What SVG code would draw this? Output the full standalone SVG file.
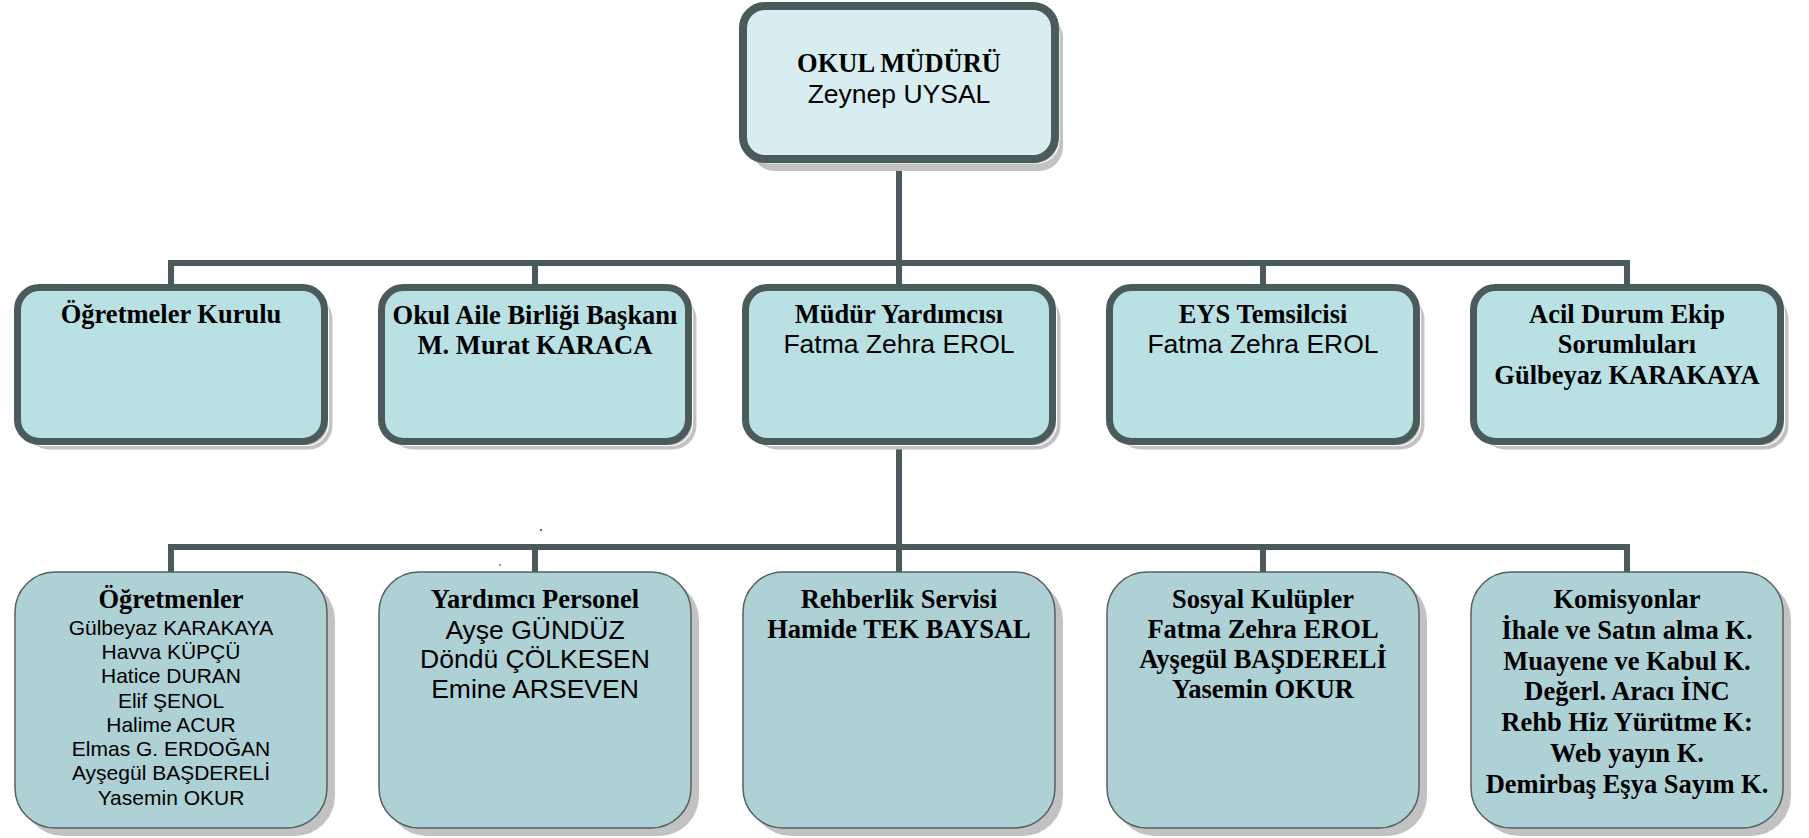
<svg xmlns="http://www.w3.org/2000/svg" width="1809" height="838" viewBox="0 0 1809 838">
<style>
.sh{fill:#c2c2c2}
.shl{fill:none;stroke:#ffffff;stroke-width:1.2}
.top{fill:#d8edf0;stroke:#4b5a5b;stroke-width:8}
.mid{fill:#b9e0e3;stroke:#4b5a5b;stroke-width:7}
.bot{fill:#aed1d5;stroke:#56605f;stroke-width:1.5}
.conn{stroke:#4b5a5b;stroke-width:6;fill:none}
.b{font-family:"Liberation Serif","Times New Roman",serif;font-weight:bold;font-size:26.5px;fill:#000;text-anchor:middle}
.r{font-family:"Liberation Sans",Arial,sans-serif;font-size:26.5px;fill:#000;text-anchor:middle}
.s{font-family:"Liberation Sans",Arial,sans-serif;font-size:21px;fill:#000;text-anchor:middle}
</style>
<rect width="1809" height="838" fill="#ffffff"/>
<g id="connectors">
<path class="conn" d="M899 163V263M171 263H1627M171 260V286M535 260V286M899 260V286M1263 260V286M1627 260V286"/>
<path class="conn" d="M899 445V547M171 547H1627M171 544V573M535 544V573M899 544V573M1263 544V573M1627 544V573"/>
</g>
<rect x="540" y="529" width="2" height="2" fill="#666"/>
<rect x="499" y="564" width="2" height="2" fill="#999"/>
<g id="okul-muduru">
<rect class="sh" x="751" y="14" width="312" height="157" rx="24"/>
<rect class="shl" x="747" y="10" width="312" height="153" rx="22"/>
<rect class="top" x="743" y="6" width="312" height="153" rx="22"/>
<text class="b" x="899" y="72">OKUL MÜDÜRÜ</text>
<text class="r" x="899" y="103">Zeynep UYSAL</text>
</g>
<g id="ogretmeler-kurulu">
<rect class="sh" x="25.5" y="295.5" width="307" height="154" rx="24"/>
<rect class="shl" x="21.5" y="291.5" width="307" height="154" rx="22"/>
<rect class="mid" x="17.5" y="287.5" width="307" height="154" rx="22"/>
<text class="b" x="171" y="323">Öğretmeler Kurulu</text>
</g>
<g id="okul-aile-birligi">
<rect class="sh" x="389.5" y="295.5" width="307" height="154" rx="24"/>
<rect class="shl" x="385.5" y="291.5" width="307" height="154" rx="22"/>
<rect class="mid" x="381.5" y="287.5" width="307" height="154" rx="22"/>
<text class="b" x="535" y="324">Okul Aile Birliği Başkanı</text>
<text class="b" x="535" y="354">M. Murat KARACA</text>
</g>
<g id="mudur-yardimcisi">
<rect class="sh" x="753.5" y="295.5" width="307" height="154" rx="24"/>
<rect class="shl" x="749.5" y="291.5" width="307" height="154" rx="22"/>
<rect class="mid" x="745.5" y="287.5" width="307" height="154" rx="22"/>
<text class="b" x="899" y="323">Müdür Yardımcısı</text>
<text class="r" x="899" y="353">Fatma Zehra EROL</text>
</g>
<g id="eys-temsilcisi">
<rect class="sh" x="1117.5" y="295.5" width="307" height="154" rx="24"/>
<rect class="shl" x="1113.5" y="291.5" width="307" height="154" rx="22"/>
<rect class="mid" x="1109.5" y="287.5" width="307" height="154" rx="22"/>
<text class="b" x="1263" y="323">EYS Temsilcisi</text>
<text class="r" x="1263" y="353">Fatma Zehra EROL</text>
</g>
<g id="acil-durum">
<rect class="sh" x="1481.5" y="295.5" width="307" height="154" rx="24"/>
<rect class="shl" x="1477.5" y="291.5" width="307" height="154" rx="22"/>
<rect class="mid" x="1473.5" y="287.5" width="307" height="154" rx="22"/>
<text class="b" x="1627" y="323">Acil Durum Ekip</text>
<text class="b" x="1627" y="353">Sorumluları</text>
<text class="b" x="1627" y="384">Gülbeyaz KARAKAYA</text>
</g>
<g id="ogretmenler">
<rect class="sh" x="23" y="580" width="312" height="256" rx="40"/>
<rect class="bot" x="15" y="572" width="312" height="256" rx="40"/>
<text class="b" x="171" y="608">Öğretmenler</text>
<text class="s" x="171" y="635">Gülbeyaz KARAKAYA</text>
<text class="s" x="171" y="659">Havva KÜPÇÜ</text>
<text class="s" x="171" y="683">Hatice DURAN</text>
<text class="s" x="171" y="708">Elif ŞENOL</text>
<text class="s" x="171" y="732">Halime ACUR</text>
<text class="s" x="171" y="756">Elmas G. ERDOĞAN</text>
<text class="s" x="171" y="780">Ayşegül BAŞDERELİ</text>
<text class="s" x="171" y="805">Yasemin OKUR</text>
</g>
<g id="yardimci-personel">
<rect class="sh" x="387" y="580" width="312" height="256" rx="40"/>
<rect class="bot" x="379" y="572" width="312" height="256" rx="40"/>
<text class="b" x="535" y="608">Yardımcı Personel</text>
<text class="r" x="535" y="639">Ayşe GÜNDÜZ</text>
<text class="r" x="535" y="668">Döndü ÇÖLKESEN</text>
<text class="r" x="535" y="698">Emine ARSEVEN</text>
</g>
<g id="rehberlik-servisi">
<rect class="sh" x="751" y="580" width="312" height="256" rx="40"/>
<rect class="bot" x="743" y="572" width="312" height="256" rx="40"/>
<text class="b" x="899" y="608">Rehberlik Servisi</text>
<text class="b" x="899" y="638">Hamide TEK BAYSAL</text>
</g>
<g id="sosyal-kulupler">
<rect class="sh" x="1115" y="580" width="312" height="256" rx="40"/>
<rect class="bot" x="1107" y="572" width="312" height="256" rx="40"/>
<text class="b" x="1263" y="608">Sosyal Kulüpler</text>
<text class="b" x="1263" y="638">Fatma Zehra EROL</text>
<text class="b" x="1263" y="668">Ayşegül BAŞDERELİ</text>
<text class="b" x="1263" y="698">Yasemin OKUR</text>
</g>
<g id="komisyonlar">
<rect class="sh" x="1479" y="580" width="312" height="256" rx="40"/>
<rect class="bot" x="1471" y="572" width="312" height="256" rx="40"/>
<text class="b" x="1627" y="608">Komisyonlar</text>
<text class="b" x="1627" y="639">İhale ve Satın alma K.</text>
<text class="b" x="1627" y="670">Muayene ve Kabul K.</text>
<text class="b" x="1627" y="700">Değerl. Aracı İNC</text>
<text class="b" x="1627" y="731">Rehb Hiz Yürütme K:</text>
<text class="b" x="1627" y="762">Web yayın K.</text>
<text class="b" x="1627" y="793">Demirbaş Eşya Sayım K.</text>
</g>
</svg>
